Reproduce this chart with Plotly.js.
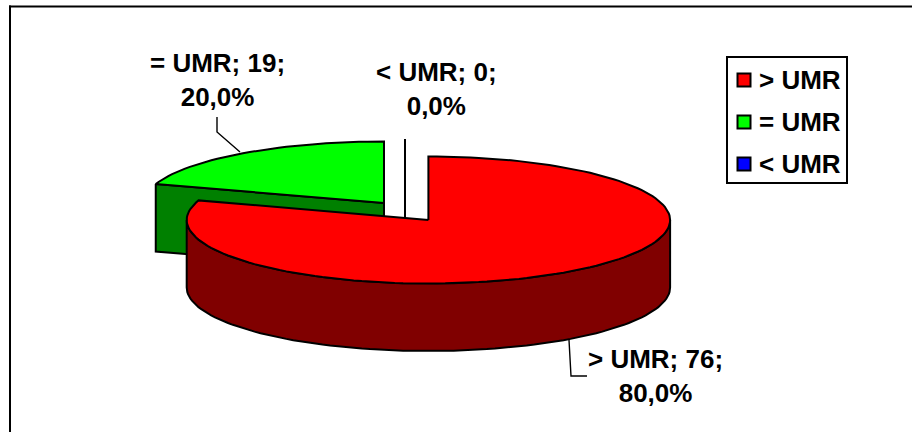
<!DOCTYPE html>
<html><head><meta charset="utf-8">
<script src="https://cdn.plot.ly/plotly-3.0.1.min.js"></script>
<style>html,body{margin:0;padding:0;background:#fff}#c{width:912px;height:432px}</style>
</head><body><div id="c"></div>
<script>
const categories = ['> UMR', '= UMR', '< UMR'];
const values = [76, 19, 0];
const topColors = ['#FF0000', '#00FF00', '#0000FF'];
const sideColors = ['#800000', '#008000', '#000080'];

const total = values.reduce((a, b) => a + b, 0);
const DEPTH = 67.5;
const centers = [[428.4, 220], [384, 203], [405, 202]];
const radiiX = [241.7, 240, 240];
const radiiY = [63.5, 61.5, 63];
const INK = '#000', LW = 2;

function pt(i, deg, dy) {
  const r = deg * Math.PI / 180, c = centers[i];
  return [c[0] + radiiX[i] * Math.sin(r), c[1] - radiiY[i] * Math.cos(r) + (dy || 0)];
}
function arc(i, a0, a1, dy) {
  const out = [], n = Math.max(2, Math.ceil(Math.abs(a1 - a0) / 2));
  for (let k = 0; k <= n; k++) out.push(pt(i, a0 + (a1 - a0) * k / n, dy));
  return out;
}
function poly(points, fill) {
  return { type: 'scatter', mode: 'lines', x: points.map(p => p[0]), y: points.map(p => p[1]),
    fill: 'toself', fillcolor: fill, line: { color: INK, width: LW }, hoverinfo: 'skip', showlegend: false };
}
function line(points, w) {
  return { type: 'scatter', mode: 'lines', x: points.map(p => p[0]), y: points.map(p => p[1]),
    line: { color: INK, width: w || 1.4 }, hoverinfo: 'skip', showlegend: false };
}

const angles = []; let acc = 0;
values.forEach(v => { angles.push([acc, acc + v / total * 360]); acc += v / total * 360; });

const traces = [];
{
  const c = centers[1], [a0, a1] = angles[1];
  traces.push(poly([pt(1, a0), c, [c[0], c[1] + DEPTH], pt(1, a0, DEPTH), pt(1, a0)], sideColors[1]));
  traces.push(poly([c, ...arc(1, a0, a1), c], topColors[1]));
}
{
  const c = centers[2];
  traces.push(line([pt(2, angles[2][0]), [c[0], c[1] + DEPTH]], LW));
}
{
  const c = centers[0], [a0, a1] = angles[0];
  const a = Math.max(a0, 90), b = Math.min(a1, 270);
  traces.push(poly([...arc(0, a, b), ...arc(0, b, a, DEPTH), pt(0, a)], sideColors[0]));
  traces.push(poly([c, ...arc(0, a0, a1), c], topColors[0]));
}
traces.push(line([[569, 340], [571, 376], [587, 376]]));
traces.push(line([[217, 117], [217, 132], [240, 152]]));

const LEG_X = 744, LEG_Y = [80, 122, 164];
const FONT = 'Liberation Sans, Arial, sans-serif', FS = 26;
categories.forEach((name, i) => traces.push({
  type: 'scatter', mode: 'markers', name, x: [LEG_X], y: [LEG_Y[i]],
  marker: { symbol: 'square', size: 13, color: topColors[i], line: { color: INK, width: LW } },
  hoverinfo: 'skip', showlegend: false
}));

const fmtPct = v => (v / total * 100).toFixed(1).replace('.', ',') + '%';
const lab = i => `<b>${categories[i]}; ${values[i]};<br>${fmtPct(values[i])}</b>`;
const labelPos = [[655, 376], [217, 80], [436, 89]];
const annotations = labelPos.map((p, i) => ({
  x: p[0], y: p[1], xref: 'x', yref: 'y', text: lab(i), showarrow: false, align: 'center',
  font: { family: FONT, size: FS, color: INK }
})).concat(categories.map((name, i) => ({
  x: 759, y: LEG_Y[i], xref: 'x', yref: 'y', xanchor: 'left', xshift: -2, text: `<b>${name}</b>`, showarrow: false,
  font: { family: FONT, size: FS, color: INK }
})));

const layout = {
  width: 912, height: 432, margin: { l: 0, r: 0, t: 0, b: 0 },
  paper_bgcolor: '#fff', plot_bgcolor: '#fff', showlegend: false,
  xaxis: { range: [0, 912], visible: false, fixedrange: true },
  yaxis: { range: [432, 0], visible: false, fixedrange: true },
  annotations,
  shapes: [
    { type: 'line', xref: 'x', yref: 'y', x0: 10, y0: 5.5, x1: 10, y1: 432, line: { color: INK, width: LW }, layer: 'below' },
    { type: 'line', xref: 'x', yref: 'y', x0: 9, y0: 6.5, x1: 912, y1: 6.5, line: { color: INK, width: LW }, layer: 'below' },
    { type: 'rect', xref: 'x', yref: 'y', x0: 727, y0: 57, x1: 847, y1: 183, line: { color: INK, width: LW }, layer: 'below' }
  ]
};
Plotly.newPlot('c', traces, layout, { displayModeBar: false, staticPlot: true });
</script></body></html>
